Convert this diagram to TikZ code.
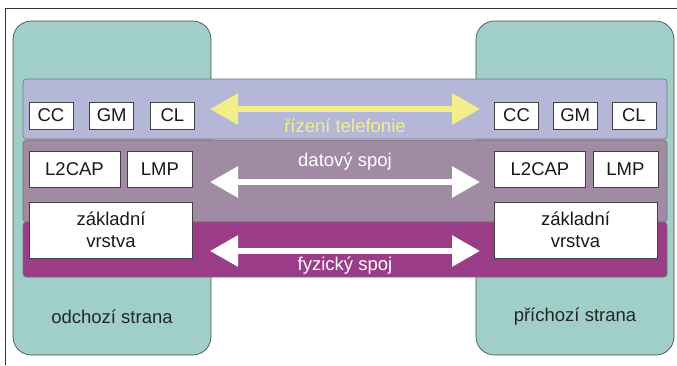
\documentclass[tikz,border=0pt]{standalone}
\usepackage{fontspec}
\setmainfont{Liberation Sans}
\usepackage{xcolor}
\usetikzlibrary{positioning,arrows.meta}

\definecolor{strana}{HTML}{9FCFC8}
\definecolor{rizeni}{HTML}{B4B7D8}
\definecolor{data}{HTML}{A08AA4}
\definecolor{fyzika}{HTML}{9B3C88}
\definecolor{zluta}{HTML}{F4EE8A}

\begin{document}
\begin{tikzpicture}[x=0.03cm, y=-0.03cm,
    every node/.style={font=\fontsize{15.8}{18.7}\selectfont},
    side/.style={draw=black!70, fill=strana, line width=0.6pt, rounded corners=0.55cm},
    band/.style={draw=black!55, line width=0.5pt, rounded corners=0.1cm},
    blok/.style={draw=black!75, fill=white, line width=0.6pt, inner sep=0pt, text=black!90},
    link/.style={line width=0.18cm, {Triangle[width=0.9cm,length=0.84cm]}-{Triangle[width=0.9cm,length=0.84cm]}}]
   \useasboundingbox (0,0) rectangle (677,365);
   % Frame (top and left only)
   \draw[black!80, line width=0.8pt] (5,365) -- (5,8) -- (677,8);

    % Both sides of the link
    \draw[side] (13,21) rectangle (211,355);
    \draw[side] (476,21) rectangle (674,355);

    % Layers
    \draw[band, fill=rizeni] (23,79) rectangle (667,139);
    \draw[band, fill=data] (23,140) rectangle (667,222);
    \draw[band, fill=fyzika] (23,222) rectangle (667,277);

    % Left stack
    \node[blok, minimum width=1.32cm, minimum height=0.81cm] (cc1) at (51,115.5) {CC};
    \node[blok, minimum width=1.32cm, minimum height=0.81cm, right=0.48cm of cc1] (gm1) {GM};
    \node[blok, minimum width=1.32cm, minimum height=0.81cm, right=0.48cm of gm1] (cl1) {CL};
    \node[blok, minimum width=2.73cm, minimum height=1.08cm] (l2cap1) at (74.5,169) {L2CAP};
    \node[blok, minimum width=1.95cm, minimum height=1.08cm, right=0.2cm of l2cap1] (lmp1) {LMP};
    \node[blok, minimum width=4.89cm, minimum height=1.68cm, align=center] (zakl1) at (111,230) {základní\\vrstva};

    % Right stack
    \node[blok, minimum width=1.32cm, minimum height=0.81cm] (cc2) at (516.5,115.5) {CC};
    \node[blok, minimum width=1.32cm, minimum height=0.81cm, right=0.42cm of cc2] (gm2) {GM};
    \node[blok, minimum width=1.32cm, minimum height=0.81cm, right=0.42cm of gm2] (cl2) {CL};
    \node[blok, minimum width=2.73cm, minimum height=1.08cm] (l2cap2) at (540,169) {L2CAP};
    \node[blok, minimum width=1.95cm, minimum height=1.08cm, right=0.2cm of l2cap2] (lmp2) {LMP};
    \node[blok, minimum width=4.89cm, minimum height=1.68cm, align=center] (zakl2) at (575.5,230) {základní\\vrstva};

    % Links between the stacks
    \coordinate (tel1) at (210,109);  \coordinate (tel2) at (480,109);
    \coordinate (dat1) at (210,182);  \coordinate (dat2) at (480,182);
    \coordinate (fyz1) at (210,251);  \coordinate (fyz2) at (480,251);
    \draw[link, zluta] (tel1) -- (tel2);
    \draw[link, white] (dat1) -- (dat2);
    \draw[link, white] (fyz1) -- (fyz2);
    \node[text=zluta] (tel) at (345,126) {řízení telefonie};
    \node[text=white] (dat) at (345,162) {datový spoj};
    \node[text=white] (fyz) at (345,266) {fyzický spoj};

    % Side names
    \node[text=black!85] (odch) at (112,317) {odchozí strana};
    \node[text=black!85] (prich) at (575,317) {příchozí strana};
\end{tikzpicture}
\end{document}
